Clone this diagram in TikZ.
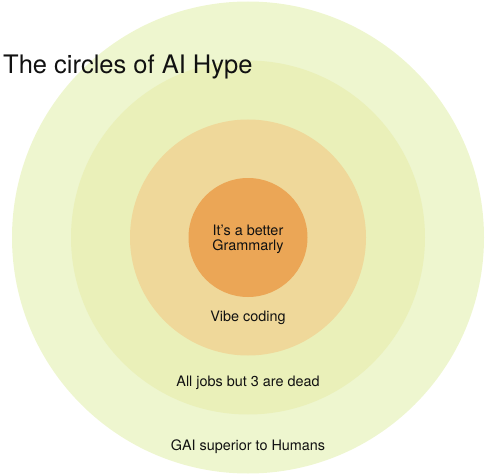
\documentclass[tikz,border=0pt]{standalone}
\usepackage{fontspec}
\setmainfont{TeX Gyre Heros}
\usetikzlibrary{positioning}
\definecolor{hypeText}{HTML}{111111}
\definecolor{ringOuter}{HTML}{EEF6CF}
\definecolor{ringThird}{HTML}{EAF0B9}
\definecolor{ringSecond}{HTML}{EFD89A}
\definecolor{ringCore}{HTML}{EBA656}

\begin{document}
\begin{tikzpicture}[
  x=1pt, y=1pt,
  ring/.style={
    circle,
    draw=none,
    inner sep=0pt
  },
  outerring/.style={ring, fill=ringOuter, minimum size=472pt},
  thirdring/.style={ring, fill=ringThird, minimum size=354pt},
  secondring/.style={ring, fill=ringSecond, minimum size=236pt},
  corering/.style={ring, fill=ringCore, minimum size=119pt},
  caption/.style={
    text=hypeText,
    inner sep=0pt,
    font=\fontsize{14.4}{15}\selectfont
  }
]
\useasboundingbox (0,0) rectangle (485,475);

\node[outerring] (ring-gai) at (248,237.5) {};
\node[thirdring] (ring-jobs) at (248,237.5) {};
\node[secondring] (ring-vibe) at (248,237.5) {};
\node[corering] (ring-grammar) at (248,237.5) {};

\node[caption, align=center] (label-grammar) at (248,235.5) {It’s a better\\Grammarly};
\node[caption, anchor=base] (label-vibe) at (248,153.4) {Vibe coding};
\node[caption, anchor=base] (label-jobs) at (248,89) {All jobs but 3 are dead};
\node[caption, anchor=base] (label-gai) at (248,24.3) {GAI superior to Humans};

\node[caption, anchor=base west, font=\fontsize{25.5}{28}\selectfont] (title) at (3,401) {The circles of AI Hype};

\end{tikzpicture}
\end{document}
